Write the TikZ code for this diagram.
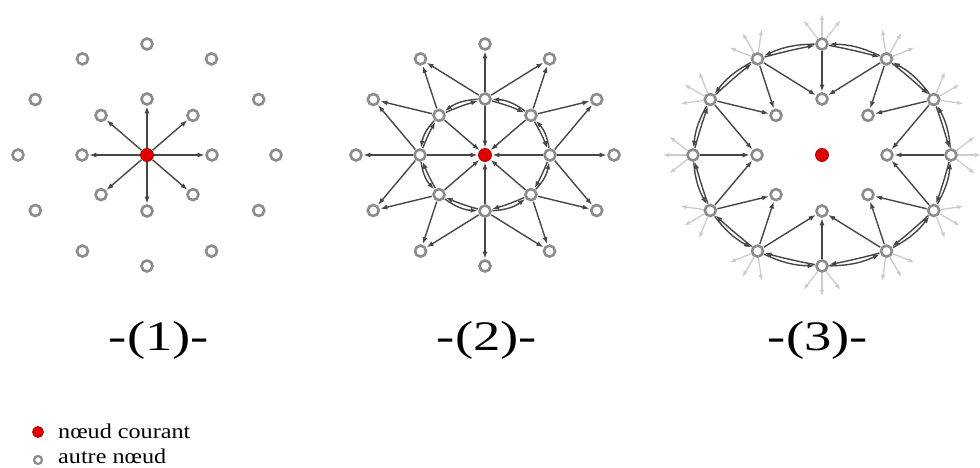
\documentclass[tikz,border=0pt]{standalone}
\usepackage{fontspec}
\setmainfont{Liberation Serif}
\usetikzlibrary{arrows.meta,calc}
\tikzset{
 nd/.style={circle, draw=black!45, line width=2.6pt, fill=white, minimum size=11pt, inner sep=0pt},
 cur/.style={circle, draw=red!65!black, line width=0.8pt, fill=red!88!black, minimum size=13pt, inner sep=0pt},
 arr/.style={draw=black!72, line width=1.4pt, -{Latex[length=7pt,width=5pt]}, shorten >=0.5pt, shorten <=0.5pt},
 farr/.style={draw=black!20, line width=1.3pt, -{Latex[length=6pt,width=4.5pt]}},
 lab/.style={font=\fontsize{42}{42}\selectfont, xscale=1.3, anchor=base, inner sep=0pt},
 leg/.style={font=\fontsize{21}{21}\selectfont, anchor=base west, xscale=1.15, inner sep=0pt},
}
\begin{document}
\begin{tikzpicture}[x=1pt,y=1pt]
\useasboundingbox (0,0) rectangle (980,-468);
\fill[white] (0,0) rectangle (980,-468);
% nodes
\foreach \L/\cx in {A/147,B/485,C/822}{
  \node[cur] (\L-c) at (\cx,-155) {};
  \foreach \k in {0,...,7}
    \node[nd] (\L-i\k) at ({\cx+65*cos(45*\k)},{-155+56*sin(45*\k)}) {};
  \foreach \j in {0,...,11}
    \node[nd] (\L-o\j) at ({\cx+129*cos(30*\j)},{-155+111*sin(30*\j)}) {};
}
% diagram 1
\foreach \k in {0,...,7} \draw[arr] (A-c) -- (A-i\k);
% diagram 2
\foreach \k in {0,...,7} \draw[arr] (B-i\k) -- (B-c);
\foreach \k [evaluate=\k as \n using {int(mod(\k+1,8))}] in {0,...,7}{
  \draw[arr] (B-i\k) to[bend right=17] (B-i\n);
  \draw[arr] (B-i\n) to[bend left=4] (B-i\k);
}
\foreach \k/\j in {0/11,0/0,0/1,1/1,1/2,2/2,2/3,2/4,3/4,3/5,4/5,4/6,4/7,5/7,5/8,6/8,6/9,6/10,7/10,7/11}{
  \draw[arr] (B-i\k) -- (B-o\j);
  \draw[arr] (C-o\j) -- (C-i\k);
}
% diagram 3
\foreach \j [evaluate=\j as \n using {int(mod(\j+1,12))}] in {0,...,11}{
  \draw[arr] (C-o\j) to[bend right=12] (C-o\n);
  \draw[arr] (C-o\n) to[bend left=2] (C-o\j);
  \foreach \m/\d in {1/-38,2/0,3/38}{
    \coordinate (C-r\j-\m) at ($(C-o\j)+({30*\j+\d}:30)$);
    \draw[farr] (C-o\j) -- (C-r\j-\m);
  }
}
% labels
\node[lab] (N1) at (159,-350) {-(1)-};
\node[lab] (N2) at (487,-350) {-(2)-};
\node[lab] (N3) at (818,-350) {-(3)-};
% legend
\node[cur, minimum size=11pt] (L1) at (38,-432) {};
\node[leg] (T1) at (58,-438) {nœud courant};
\node[nd, minimum size=8pt, line width=2.2pt] (L2) at (38,-460) {};
\node[leg] (T2) at (58,-463) {autre nœud};
\end{tikzpicture}
\end{document}
